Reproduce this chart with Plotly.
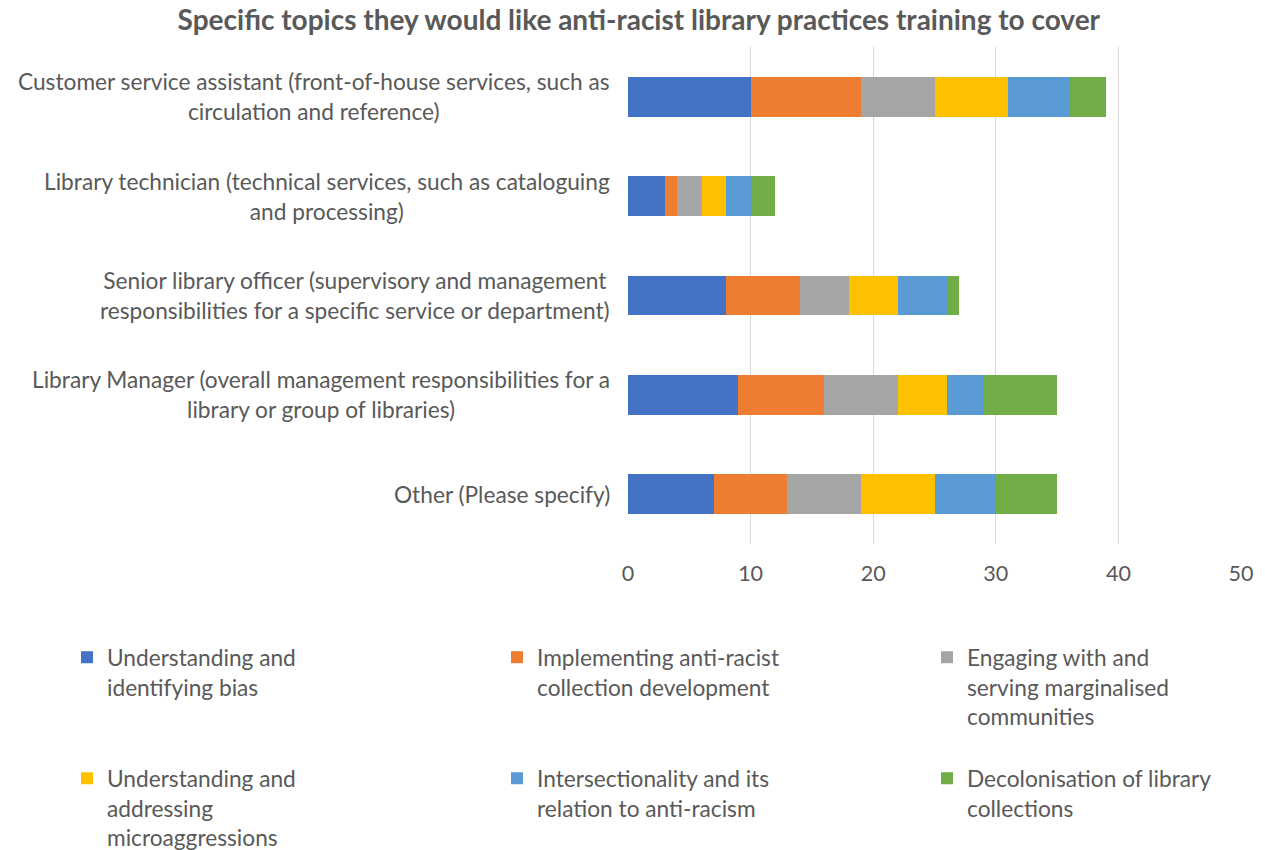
import plotly.graph_objects as go

# Staff roles (rows, top to bottom)
roles = [
    "Customer service assistant (front-of-house services, such as<br>circulation and reference)",
    "Library technician (technical services, such as cataloguing<br>and processing)",
    "Senior library officer (supervisory and management<br>responsibilities for a specific service or department)",
    "Library Manager (overall management responsibilities for a<br>library or group of libraries)",
    "Other (Please specify)",
]

# Training topics (stacked segments) and their counts per role
topics = [
    "Understanding and<br>identifying bias",
    "Implementing anti-racist<br>collection development",
    "Engaging with and<br>serving marginalised<br>communities",
    "Understanding and<br>addressing<br>microaggressions",
    "Intersectionality and its<br>relation to anti-racism",
    "Decolonisation of library<br>collections",
]
understanding_bias = [10, 3, 8, 9, 7]
collection_development = [9, 1, 6, 7, 6]
marginalised_communities = [6, 2, 4, 6, 6]
microaggressions = [6, 2, 4, 4, 6]
intersectionality = [5, 2, 4, 3, 5]
decolonisation = [3, 2, 1, 6, 5]
series = [understanding_bias, collection_development, marginalised_communities,
          microaggressions, intersectionality, decolonisation]

colors = ["#4472C4", "#ED7D31", "#A5A5A5", "#FFC000", "#5B9BD5", "#70AD47"]
x_ticks = [0, 10, 20, 30, 40, 50]

FONT = "Lato"
GREY = "#595959"
TXT = 22.7
FIG_H = 850

# one legend box per topic, laid out as a 3 x 2 grid under the chart
# x relative to the plot area, y relative to the whole figure
legend_ids = ["legend", "legend2", "legend3", "legend4", "legend5", "legend6"]
legend_x = [-0.9152, -0.2137, 0.4878, -0.9152, -0.2137, 0.4878]
legend_y = [0.2518, 0.2518, 0.2518, 0.1094, 0.1094, 0.1094]

fig = go.Figure()
for name, vals, col, lid in zip(topics, series, colors, legend_ids):
    fig.add_trace(go.Bar(
        y=roles, x=vals, name=name, orientation="h",
        marker=dict(color=col, line=dict(width=0)),
        legend=lid, hoverinfo="x+name",
    ))

# Role labels: right-aligned block, lines centred within it
for r in roles:
    fig.add_annotation(
        x=0, xref="paper", xanchor="right", xshift=-16,
        y=r, yref="y", yanchor="middle",
        text=r, align="center", showarrow=False,
        font=dict(family=FONT, size=TXT, color=GREY),
    )

legends = {}
for lid, lx, ly in zip(legend_ids, legend_x, legend_y):
    legends[lid] = dict(
        x=lx, y=ly, xref="paper", yref="container",
        xanchor="left", yanchor="top", valign="top",
        orientation="v", font=dict(family=FONT, size=TXT, color=GREY),
        bgcolor="rgba(0,0,0,0)", borderwidth=0,
    )

fig.update_layout(
    width=1265, height=FIG_H,
    margin=dict(l=628, r=24, t=47, b=306),
    paper_bgcolor="white", plot_bgcolor="white",
    barmode="stack", bargap=0.6,
    title=dict(
        text="<b>Specific topics they would like anti-racist library practices training to cover</b>",
        x=0.505, xanchor="center", y=0.976, yanchor="middle",
        font=dict(family=FONT, size=28, color=GREY),
    ),
    xaxis=dict(
        range=[0, 50], tickvals=x_ticks, ticktext=[str(v) for v in x_ticks],
        showgrid=True, gridcolor="#D9D9D9", gridwidth=1,
        zeroline=False, showline=False, ticks="", ticklabelstandoff=14,
        tickfont=dict(family=FONT, size=21.5, color=GREY),
    ),
    yaxis=dict(
        categoryorder="array", categoryarray=roles, autorange="reversed",
        showticklabels=False, showgrid=False, zeroline=False, showline=False,
    ),
    showlegend=True,
    **legends,
)

fig.write_html("out.html")
